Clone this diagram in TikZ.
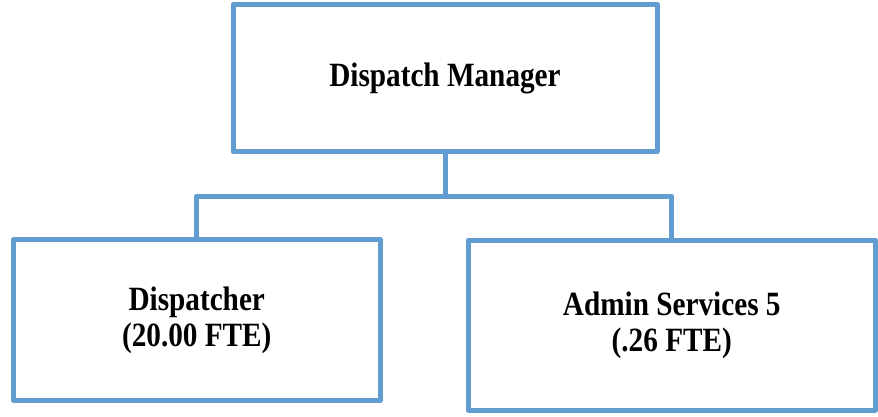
\documentclass[tikz,border=0pt]{standalone}
\usepackage{fontspec}
\setmainfont{Liberation Serif}[FakeStretch=0.86]
\definecolor{orgblue}{RGB}{98,157,210}
\begin{document}
\begin{tikzpicture}[x=1pt,y=-1pt,
  orgbox/.style={draw=orgblue, line width=5pt, line join=round, fill=white,
    inner sep=0pt, align=center,
    font=\fontsize{34}{36}\selectfont\bfseries},
  link/.style={draw=orgblue, line width=5pt, line join=round}]
  \useasboundingbox (0,0) rectangle (878,417);
  % reporting lines
  \coordinate (busy) at (0,196);
  \node[orgbox, minimum width=424pt, minimum height=147pt] (mgr) at (445,78) {Dispatch Manager};
  \node[orgbox, minimum width=366.5pt, minimum height=160.5pt] (disp) at (196.75,320) {Dispatcher\\(20.00 FTE)};
  \node[orgbox, minimum width=407.5pt, minimum height=170pt] (admin) at (671.75,325) {Admin Services 5\\(.26 FTE)};
  \draw[link] (mgr.south) -- (mgr.south |- busy);
  \draw[link] (disp.north) -- (disp.north |- busy) -- (admin.north |- busy) -- (admin.north);
\end{tikzpicture}
\end{document}
